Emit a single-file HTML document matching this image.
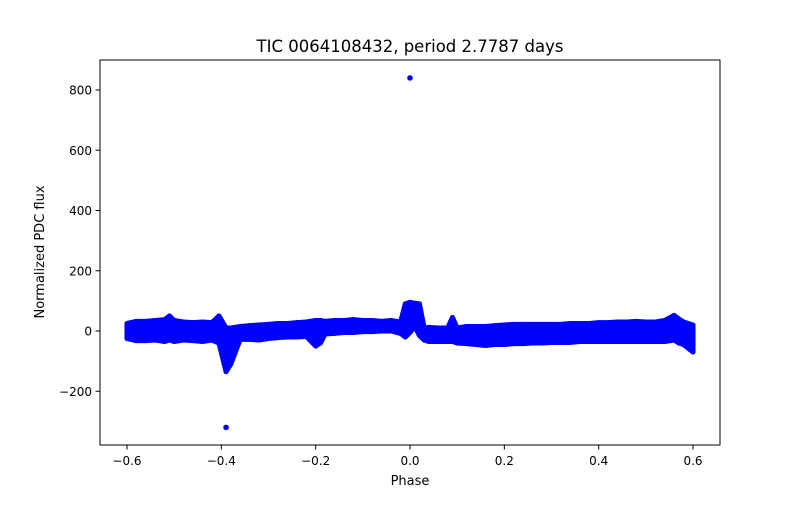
<!DOCTYPE html>
<html><head><meta charset="utf-8"><style>
body{margin:0;background:#fff;font-family:"Liberation Sans","DejaVu Sans",sans-serif}
</style></head><body>
<svg id="c" width="800" height="500" xmlns="http://www.w3.org/2000/svg" font-family="DejaVu Sans, Liberation Sans, sans-serif">
<rect width="800" height="500" fill="#fff"/>
<g id="marks"></g>
<rect x="100" y="60" width="620" height="385" fill="none" stroke="#000" stroke-width="1"/>
<g id="xt"></g>
<g id="yt"></g>
<text x="410" y="52" text-anchor="middle" font-size="16.5">TIC 0064108432, period 2.7787 days</text>
<text x="410" y="485" text-anchor="middle" font-size="13">Phase</text>
<text transform="translate(44,252) rotate(-90)" text-anchor="middle" font-size="13">Normalized PDC flux</text>
</svg>
<script>
const phases=[-0.6,-0.58,-0.56,-0.54,-0.52,-0.51,-0.5,-0.48,-0.46,-0.44,-0.42,-0.405,-0.39,-0.38,-0.36,-0.34,-0.32,-0.3,-0.28,-0.26,-0.24,-0.22,-0.2,-0.19,-0.18,-0.16,-0.14,-0.12,-0.1,-0.08,-0.06,-0.04,-0.02,-0.01,0.0,0.01,0.02,0.03,0.04,0.06,0.08,0.09,0.1,0.12,0.14,0.16,0.18,0.2,0.22,0.24,0.26,0.28,0.3,0.32,0.34,0.36,0.38,0.4,0.42,0.44,0.46,0.48,0.5,0.52,0.54,0.56,0.57,0.58,0.6];
const upper=[25,32,32,35,38,50,35,30,28,30,28,50,10,10,15,18,20,22,25,25,28,30,35,35,32,35,35,38,35,35,32,35,30,90,95,92,90,10,12,10,10,45,10,15,15,15,18,20,22,22,22,22,22,22,25,25,25,28,28,30,30,32,30,30,35,52,40,30,20];
const lower=[-25,-32,-32,-30,-35,-30,-35,-30,-32,-35,-30,-40,-135,-110,-28,-28,-30,-25,-22,-20,-20,-18,-50,-40,-10,-8,-5,-5,-2,-2,0,0,-8,-20,-5,15,-15,-30,-35,-35,-35,-35,-40,-42,-45,-48,-45,-45,-42,-42,-40,-40,-38,-38,-38,-35,-35,-35,-35,-35,-35,-35,-35,-35,-35,-30,-40,-45,-70];
const outPhase=[0.0,-0.39];
const outFlux=[840,-320];
const xTicks=[-0.6,-0.4,-0.2,0.0,0.2,0.4,0.6];
const xLabels=["−0.6","−0.4","−0.2","0.0","0.2","0.4","0.6"];
const yTicks=[-200,0,200,400,600,800];
const yLabels=["−200","0","200","400","600","800"];
const X=p=>410+p*471.7;
const Y=v=>331-v*0.30125;
const NS="http://www.w3.org/2000/svg";
const m=document.getElementById('marks');
for(let i=0;i<phases.length-1;i++){
  const x0=X(phases[i]),x1=X(phases[i+1]);
  const pg=document.createElementNS(NS,'polygon');
  
  
  pg.setAttribute('points',`${x0},${Y(upper[i])} ${x1},${Y(upper[i+1])} ${x1},${Y(lower[i+1])} ${x0},${Y(lower[i])}`);
  pg.setAttribute('fill','#0000ff');pg.setAttribute('stroke','#0000ff');pg.setAttribute('stroke-width','5');pg.setAttribute('stroke-linejoin','round');
  m.appendChild(pg);
}
for(let i=0;i<outPhase.length;i++){
  const c=document.createElementNS(NS,'circle');
  
  
  c.setAttribute('cx',X(outPhase[i]));c.setAttribute('cy',Y(outFlux[i]));c.setAttribute('r','2.8');c.setAttribute('fill','#0000ff');
  m.appendChild(c);
}
const xt=document.getElementById('xt');
xTicks.forEach((t,i)=>{
  const l=document.createElementNS(NS,'line');
  
  
  l.setAttribute('x1',X(t));l.setAttribute('x2',X(t));l.setAttribute('y1',445);l.setAttribute('y2',449.5);l.setAttribute('stroke','#000');
  xt.appendChild(l);
  const tx=document.createElementNS(NS,'text');
  
  
  tx.setAttribute('x',X(t));tx.setAttribute('y',465);tx.setAttribute('text-anchor','middle');tx.setAttribute('font-size','12');
  tx.textContent=xLabels[i];xt.appendChild(tx);
});
const yt=document.getElementById('yt');
yTicks.forEach((t,i)=>{
  const l=document.createElementNS(NS,'line');
  
  
  l.setAttribute('x1',95.5);l.setAttribute('x2',100);l.setAttribute('y1',Y(t));l.setAttribute('y2',Y(t));l.setAttribute('stroke','#000');
  yt.appendChild(l);
  const tx=document.createElementNS(NS,'text');
  
  
  tx.setAttribute('x',92);tx.setAttribute('y',Y(t)+4.5);tx.setAttribute('text-anchor','end');tx.setAttribute('font-size','12');
  tx.textContent=yLabels[i];yt.appendChild(tx);
});
</script>
</body></html>
